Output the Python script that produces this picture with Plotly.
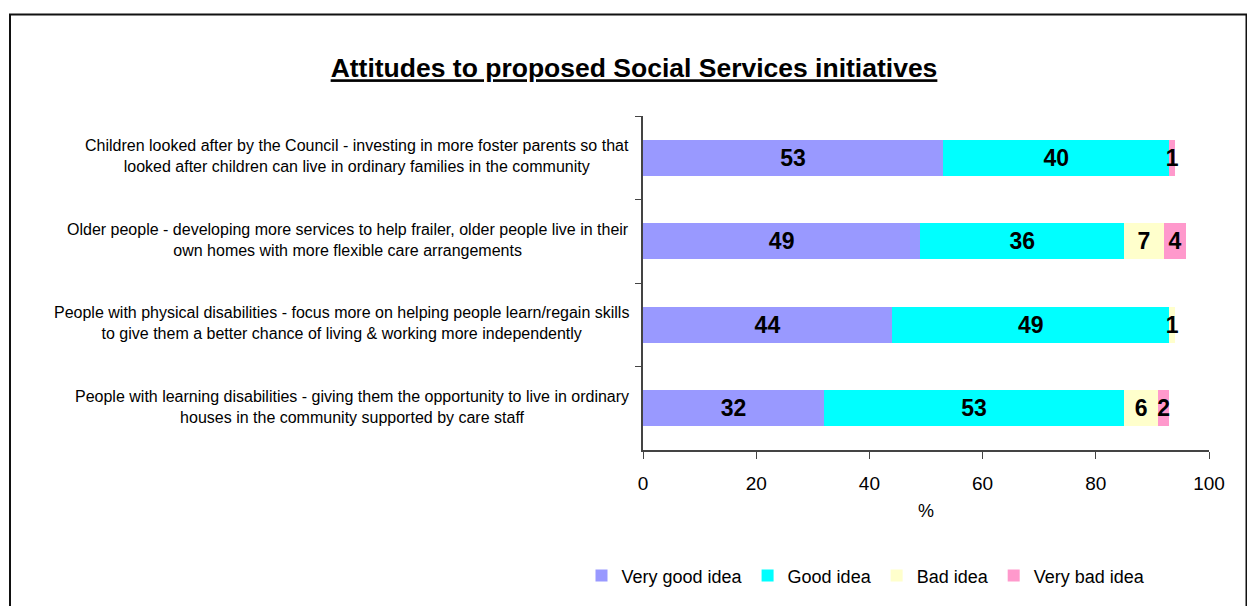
import plotly.graph_objects as go

# Survey results: share of respondents (%) per initiative
initiatives = [
    "Children looked after by the Council - investing in more foster parents so that<br>looked after children can live in ordinary families in the community",
    "Older people - developing more services to help frailer, older people live in their<br>own homes with more flexible care arrangements",
    "People with physical disabilities - focus more on helping people learn/regain skills<br>to give them a better chance of living & working more independently",
    "People with learning disabilities - giving them the opportunity to live in ordinary<br>houses in the community supported by care staff",
]
very_good = [53, 49, 44, 32]
good = [40, 36, 49, 53]
bad = [0, 7, 1, 6]
very_bad = [1, 4, 0, 2]

series_names = ["Very good idea", "Good idea", "Bad idea", "Very bad idea"]
series_values = [very_good, good, bad, very_bad]
series_colors = ["#9999FF", "#00FFFF", "#FFFFCC", "#FF99CC"]

x_ticks = [0, 20, 40, 60, 80, 100]

W, H = 1247, 606
L, R, T, B = 643, 38, 116, 153
FONT = "Liberation Sans, Arial"

fig = go.Figure()
for name, vals, col in zip(series_names, series_values, series_colors):
    fig.add_trace(go.Bar(
        y=initiatives,
        x=vals,
        name=name,
        orientation="h",
        marker=dict(color=col, line=dict(width=0)),
        text=[str(v) if v else "" for v in vals],
        textposition="inside",
        insidetextanchor="middle",
        textangle=0,
        constraintext="none",
        insidetextfont=dict(family=FONT, size=23, color="black", weight="bold"),
        hoverinfo="x+name",
    ))

# Category labels: centred lines, right edge next to the axis
for cat in initiatives:
    fig.add_annotation(
        x=0, xref="paper", y=cat, yref="y",
        text=cat, showarrow=False,
        xanchor="right", yanchor="middle",
        xshift=-12, yshift=1.5,
        align="center",
        font=dict(family=FONT, size=16, color="black"),
    )

pw, ph = W - L - R, H - T - B
# Outer chart frame
fig.add_shape(
    type="rect", xref="paper", yref="paper",
    x0=(10 - L) / pw, x1=(1246.5 - L) / pw,
    y0=(H - B - 640) / ph, y1=(H - B - 13.5) / ph,
    line=dict(color="#111111", width=2), fillcolor="rgba(0,0,0,0)",
    layer="below",
)

fig.update_layout(
    width=W, height=H,
    margin=dict(l=L, r=R, t=T, b=B, pad=0),
    barmode="stack",
    bargap=0.57,
    paper_bgcolor="white",
    plot_bgcolor="white",
    font=dict(family=FONT, color="black"),
    title=dict(
        text="<b><u>Attitudes to proposed Social Services initiatives</u></b>",
        x=634 / W, xanchor="center",
        y=1 - 68 / H, yanchor="middle",
        font=dict(size=26.5, color="black"),
    ),
    xaxis=dict(
        range=[0, 100],
        tickvals=x_ticks,
        ticks="outside", ticklen=7, tickcolor="#444444",
        ticklabelstandoff=8,
        showline=True, linecolor="#444444", linewidth=1.5,
        showgrid=False, zeroline=False,
        tickfont=dict(size=19),
        title=dict(text="%", font=dict(size=18), standoff=12),
    ),
    yaxis=dict(
        type="category",
        categoryorder="array", categoryarray=initiatives,
        autorange="reversed",
        showticklabels=False,
        tickson="boundaries",
        ticks="outside", ticklen=6, tickcolor="#444444",
        showline=True, linecolor="#444444", linewidth=1.5,
        showgrid=False, zeroline=False,
    ),
    legend=dict(
        orientation="h",
        x=(866 - L) / pw, xanchor="center",
        y=(H - B - 580) / ph, yanchor="middle",
        font=dict(size=18),
        traceorder="normal",
        itemwidth=30,
        tracegroupgap=0,
    ),
    showlegend=True,
)

fig.write_html("out.html")
